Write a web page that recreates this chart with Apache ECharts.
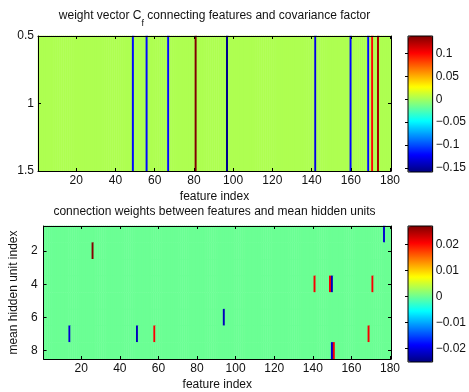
<!DOCTYPE html>
<html><head><meta charset="utf-8">
<script src="https://cdn.jsdelivr.net/npm/echarts@6/dist/echarts.min.js"></script>
<style>html,body{margin:0;padding:0;background:#fff}#c{width:469px;height:392px}</style>
</head><body><div id="c"></div>
<script>
// ---- data ----
const featureCount = 180;
const featureCategories = Array.from({length: featureCount}, (_, i) => String(i + 1));
const hiddenUnits = ['1','2','3','4','5','6','7','8'];
const xTickLabels = ['20','40','60','80','100','120','140','160','180'];
const hiddenTickLabels = ['2','4','6','8'];

// top: weight vector C_f (one row), background value plus spikes
const topBackground = 0.003;
const topSpikeFeatures = [49, 56, 67, 81, 97, 142, 160, 169, 171, 174];
const topSpikeValues   = [-0.12, -0.12, -0.12, 0.138, -0.155, -0.13, -0.12, -0.12, 0.10, 0.125];
const topRange = [-0.159, 0.138];
const topCbarTicks = [-0.15, -0.1, -0.05, 0, 0.05, 0.1];

// bottom: connection weights (8 hidden units x 180 features)
const bottomBackground = 0.0;
const bottomSpikeUnits    = [1, 2, 4, 4, 4, 4, 6, 7, 7, 7, 7, 8, 8];
const bottomSpikeFeatures = [177, 26, 141, 149, 150, 171, 94, 14, 49, 58, 169, 150, 151];
const bottomSpikeValues   = [-0.021, 0.027, 0.021, 0.021, -0.022, 0.021, -0.022, -0.021, -0.022, 0.021, 0.021, -0.021, 0.021];
const bottomRange = [-0.0251, 0.0272];
const bottomCbarTicks = [-0.02, -0.01, 0, 0.01, 0.02];

// ---- build heatmap tables ----
const topData = featureCategories.map((f, i) => {
  const k = topSpikeFeatures.indexOf(i + 1);
  return [i, 0, k >= 0 ? topSpikeValues[k] : topBackground];
});
const bottomData = [];
hiddenUnits.forEach((u, r) => {
  featureCategories.forEach((f, c) => {
    let v = bottomBackground;
    bottomSpikeUnits.forEach((uu, k) => {
      if (uu === r + 1 && bottomSpikeFeatures[k] === c + 1) v = bottomSpikeValues[k];
    });
    bottomData.push([c, r, v]);
  });
});

const jet = ['#000080','#0000ff','#0080ff','#00ffff','#80ff80','#ffff00','#ff8000','#ff0000','#800000'];
const FONT = 'Liberation Sans';
const txt = {fontFamily: FONT, fontSize: 12, color: '#111', fontWeight: 'normal'};
const lineStyle = {color: '#000', width: 1};
const minus = v => String(v).replace('-', '\u2212');

function catX(grid, pos, withLabels, name) {
  return {
    type: 'category', gridIndex: grid, position: pos, data: featureCategories, z: 10,
    boundaryGap: true,
    axisLine: {show: true, onZero: false, lineStyle},
    axisTick: {show: true, inside: true, length: 3, alignWithLabel: true, lineStyle,
      interval: (i, v) => xTickLabels.includes(v)},
    axisLabel: {show: withLabels, ...txt, margin: 4, interval: (i, v) => xTickLabels.includes(v)},
    splitLine: {show: false},
    name: name || '', nameLocation: 'middle', nameGap: 20, nameTextStyle: txt
  };
}

const chart = echarts.init(document.getElementById('c'));
chart.setOption({
  animation: false,
  backgroundColor: '#fff',
  title: [
    {text: '{a|weight vector C}{s|f}{a| connecting features and covariance factor}',
     left: 214.5, top: 10, textAlign: 'center', padding: 0,
     textStyle: {...txt, rich: {
       a: {...txt, lineHeight: 14, verticalAlign: 'top'},
       s: {...txt, fontSize: 9, lineHeight: 9, padding: [9, 0, 0, 0], verticalAlign: 'top'}
     }}},
    {text: 'connection weights between features and mean hidden units',
     left: 214.5, top: 206, textAlign: 'center', padding: 0, textStyle: txt}
  ],
  grid: [
    {left: 38, top: 36, width: 353, height: 135},
    {left: 38, top: 226, width: 353, height: 136},
    {left: 408, top: 36, width: 25, height: 136, show: true, borderColor: '#000', borderWidth: 1, backgroundColor: 'transparent', z: 6},
    {left: 408, top: 226, width: 25, height: 136, show: true, borderColor: '#000', borderWidth: 1, backgroundColor: 'transparent', z: 6}
  ],
  xAxis: [
    catX(0, 'bottom', true, 'feature index'),
    catX(0, 'top', false),
    catX(1, 'bottom', true, 'feature index'),
    catX(1, 'top', false),
    {type: 'value', gridIndex: 2, show: false, min: 0, max: 1},
    {type: 'value', gridIndex: 3, show: false, min: 0, max: 1}
  ],
  yAxis: [
    {type: 'category', gridIndex: 0, data: ['1'], show: false},
    {type: 'value', gridIndex: 0, position: 'left', min: 0.5, max: 1.5, interval: 0.5, inverse: true, z: 10,
     axisLine: {show: true, onZero: false, lineStyle}, axisTick: {show: true, inside: true, length: 3, lineStyle},
     axisLabel: {...txt, margin: 4}, splitLine: {show: false}},
    {type: 'value', gridIndex: 0, position: 'right', min: 0.5, max: 1.5, interval: 0.5, inverse: true, z: 10,
     axisLine: {show: true, onZero: false, lineStyle}, axisTick: {show: true, inside: true, length: 3, lineStyle},
     axisLabel: {show: false}, splitLine: {show: false}},
    {type: 'category', gridIndex: 1, data: hiddenUnits, inverse: true, position: 'left', z: 10,
     axisLine: {show: true, onZero: false, lineStyle},
     axisTick: {show: true, inside: true, length: 3, alignWithLabel: true, lineStyle, interval: (i, v) => hiddenTickLabels.includes(v)},
     axisLabel: {...txt, margin: 6, interval: (i, v) => hiddenTickLabels.includes(v)},
     splitLine: {show: false},
     name: 'mean hidden unit index', nameLocation: 'middle', nameGap: 15, nameTextStyle: txt},
    {type: 'category', gridIndex: 1, data: hiddenUnits, inverse: true, position: 'right', z: 10,
     axisLine: {show: true, onZero: false, lineStyle},
     axisTick: {show: true, inside: true, length: 3, alignWithLabel: true, lineStyle, interval: (i, v) => hiddenTickLabels.includes(v)},
     axisLabel: {show: false}, splitLine: {show: false}},
    {type: 'value', gridIndex: 2, position: 'right', min: topRange[0], max: topRange[1], z: 10,
     axisLine: {show: false}, splitLine: {show: false},
     axisTick: {show: true, inside: true, length: 3, lineStyle, customValues: topCbarTicks},
     axisLabel: {...txt, margin: 3, customValues: topCbarTicks, formatter: minus}},
    {type: 'value', gridIndex: 3, position: 'right', min: bottomRange[0], max: bottomRange[1], z: 10,
     axisLine: {show: false}, splitLine: {show: false},
     axisTick: {show: true, inside: true, length: 3, lineStyle, customValues: bottomCbarTicks},
     axisLabel: {...txt, margin: 3, customValues: bottomCbarTicks, formatter: minus}}
  ],
  visualMap: [
    {type: 'continuous', seriesIndex: 0, min: topRange[0], max: topRange[1], calculable: false,
     left: 408, top: 36, itemWidth: 25, itemHeight: 136, padding: 0, text: null, showLabel: false,
     inRange: {color: jet}, hoverLink: false},
    {type: 'continuous', seriesIndex: 1, min: bottomRange[0], max: bottomRange[1], calculable: false,
     left: 408, top: 226, itemWidth: 25, itemHeight: 136, padding: 0, text: null, showLabel: false,
     inRange: {color: jet}, hoverLink: false}
  ],
  series: [
    {type: 'heatmap', xAxisIndex: 0, yAxisIndex: 0, data: topData, silent: true, emphasis: {disabled: true}, progressive: 0},
    {type: 'heatmap', xAxisIndex: 2, yAxisIndex: 3, data: bottomData, silent: true, emphasis: {disabled: true}, progressive: 0}
  ]
});
</script></body></html>
